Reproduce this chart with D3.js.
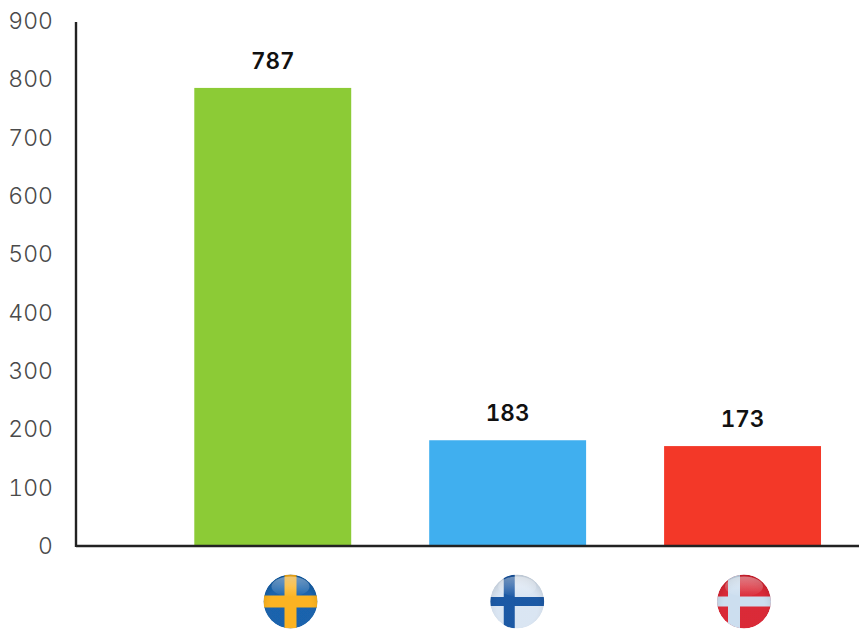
<!DOCTYPE html>
<html><head><meta charset="utf-8">
<script src="https://cdn.jsdelivr.net/npm/d3@7/dist/d3.min.js"></script>
<style>html,body{margin:0;padding:0;background:#fff}svg{display:block}text{font-variant-numeric:tabular-nums}</style>
</head><body><svg id="c" width="859" height="630"></svg>
<script>
const categories = ["Sweden","Finland","Denmark"];
const values = [787,183,173];
const barColors = ["#8ccb36","#40afef","#f33828"];
const yTicks = [0,100,200,300,400,500,600,700,800,900];

const svg = d3.select("#c");
const y = d3.scaleLinear().domain([0,900]).range([547,22]);
const x = d3.scaleBand().domain(categories).range([155.3,860]).paddingInner(0.332).paddingOuter(0.166);
const flagX = d3.scalePoint().domain(categories).range([290.5,744]);
const font = "Inter,sans-serif";

svg.selectAll("rect.bar").data(categories).join("rect").attr("class","bar")
  .attr("x",d=>x(d)).attr("width",x.bandwidth())
  .attr("y",(d,i)=>y(values[i])).attr("height",(d,i)=>y(0)-y(values[i]))
  .attr("fill",(d,i)=>barColors[i]);

svg.selectAll("text.val").data(categories).join("text").attr("class","val")
  .attr("x",d=>x(d)+x.bandwidth()/2)
  .attr("y",(d,i)=>y(values[i])-19)
  .attr("text-anchor","middle").attr("font-family",font).attr("font-weight",600)
  .attr("font-size",22.5).attr("fill","#111").text((d,i)=>values[i]);

const axis = d3.axisLeft(y).tickValues(yTicks).tickSize(0).tickPadding(23).tickFormat(d3.format("d"));
const g = svg.append("g").attr("transform","translate(76,-1)").call(axis);
g.select(".domain").remove();
g.selectAll("text").attr("font-family",font).attr("font-size",23).attr("font-weight",300).attr("fill","#4a4a4a");

svg.append("line").attr("x1",76).attr("x2",76).attr("y1",y(900)).attr("y2",y(0)).attr("stroke","#222").attr("stroke-width",2.4);
svg.append("line").attr("x1",76).attr("x2",859).attr("y1",y(0)-1).attr("y2",y(0)-1).attr("stroke","#222").attr("stroke-width",2.4);

const defs = svg.append("defs");
const shine = defs.append("radialGradient").attr("id","shade").attr("cx","50%").attr("cy","60%").attr("r","62%");
shine.append("stop").attr("offset","60%").attr("stop-color","#fff").attr("stop-opacity",0.06);
shine.append("stop").attr("offset","100%").attr("stop-color","#000").attr("stop-opacity",0.16);
const gloss = defs.append("linearGradient").attr("id","gloss").attr("x1",0).attr("y1",0).attr("x2",0).attr("y2",1);
gloss.append("stop").attr("offset","0%").attr("stop-color","#fff").attr("stop-opacity",0.4);
gloss.append("stop").attr("offset","100%").attr("stop-color","#fff").attr("stop-opacity",0.02);
defs.append("filter").attr("id","soft").append("feGaussianBlur").attr("stdDeviation",0.6);

const flagBase = ["#0b5aa8","#d8e4f2","#d81c2a"];
const flagCross = ["#fbae12","#0f4f9f","#c9dcee"];
const crossShift = [0,-8,-10];
const crossWidth = [12,11,12];
const crossHeight = [12,9,10];
const R = 27, cy = 601.5;
categories.forEach((c,i)=>{
  const cx = flagX(c);
  const clipId = "clip"+i;
  defs.append("clipPath").attr("id",clipId).append("circle").attr("r",R);
  const f = svg.append("g").attr("transform",`translate(${cx},${cy})`).attr("filter","url(#soft)");
  const h = f.append("g").attr("clip-path",`url(#${clipId})`);
  h.append("circle").attr("r",R).attr("fill",flagBase[i]);
  h.append("rect").attr("x",-R).attr("y",-crossHeight[i]/2).attr("width",2*R).attr("height",crossHeight[i]).attr("fill",flagCross[i]);
  h.append("rect").attr("x",crossShift[i]-crossWidth[i]/2).attr("y",-R).attr("width",crossWidth[i]).attr("height",2*R).attr("fill",flagCross[i]);
  h.append("circle").attr("r",R).attr("fill","url(#shade)");
  h.append("ellipse").attr("cy",-15).attr("rx",19).attr("ry",10).attr("fill","url(#gloss)");
});
</script></body></html>
